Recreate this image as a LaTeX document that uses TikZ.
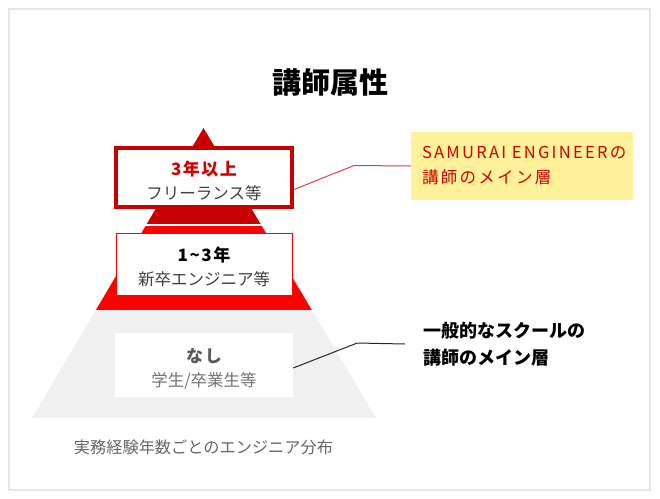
\documentclass[tikz,border=0pt]{standalone}
\usepackage{fontspec}
\setmainfont{Noto Sans CJK JP}
\usetikzlibrary{calc,positioning}
\definecolor{tierdark}{HTML}{C80000}
\definecolor{tierred}{HTML}{FF0000}
\definecolor{tiergrey}{HTML}{F0F0F0}
\definecolor{noteyellow}{HTML}{FFF29A}
\definecolor{notered}{HTML}{D20000}
\definecolor{callred}{HTML}{E83846}
\definecolor{framegrey}{HTML}{E6E6E6}
\newcommand\tierhead[1]{\rule{0pt}{21pt}{\fontsize{17}{24}\selectfont\bfseries\addfontfeature{LetterSpace=9}#1}}
\tikzset{
	tierbox/.style={minimum width=176, minimum height=60, inner sep=0pt, align=center, fill=white, font=\fontsize{16.5}{24}\selectfont},
	notetext/.style={anchor=west, align=left, inner sep=0pt},
}

\begin{document}
\begin{tikzpicture}[x=1pt, y=-1pt]
		%%%%% START %%%%%
		
		\useasboundingbox (0, 0) rectangle (660, 498);
		\fill[white] (0, 0) rectangle (660, 498);
		\draw[framegrey, line width=1.5pt] (9, 9) rectangle (650, 490);
		
		\node (title) at (330, 82) {\fontsize{29}{30}\selectfont\bfseries 講師属性};
		
		% pyramid, cut into three bands
		\begin{scope}
			\clip (203.5, 128) -- (376, 418) -- (32, 418) -- cycle;
			\fill[tierdark] (0, 120) rectangle (660, 223.5);
			\fill[tierred] (0, 226) rectangle (660, 310);
			\fill[tiergrey] (0, 310) rectangle (660, 418);
		\end{scope}
		
		\node[tierbox, draw=tierdark, line width=4pt, minimum height=59] (senior) at (204, 177.5)
			{\textcolor{notered}{\tierhead{3年以上}}\\\textcolor{black!75}{フリーランス等}};
		\node[tierbox, draw=tierred, line width=0.8pt, minimum height=62] (junior) at (204, 264)
			{\tierhead{1\char`~3年}\\\textcolor{black!75}{新卒エンジニア等}};
		\node[tierbox, minimum width=178, minimum height=64] (novice) at (204, 365)
			{\textcolor{black!65}{\tierhead{なし}}\\\textcolor{black!55}{学生/卒業生等}};
		
		\node[fill=noteyellow, minimum width=222, minimum height=68, text width=200, inner xsep=11pt, align=left,
			font=\fontsize{16.5}{25}\selectfont\addfontfeature{LetterSpace=14}, text=notered] (samurai) at (522, 166)
			{SAMURAI ENGINEERの\\講師のメイン層};
		\node[notetext, inner xsep=18pt, font=\fontsize{18}{27}\selectfont\bfseries] (school) at (405, 344)
			{一般的なスクールの\\講師のメイン層};
		
		\draw[callred, line width=1pt] ($(senior.east)+(0, 12)$) -- ++(60, -24) -- (samurai.west);
		\draw[black!85, line width=1pt] ($(novice.east)+(0, 3)$) -- ++(64, -25) -- (school.west);
		
		\node[text=black!60, font=\fontsize{16.2}{18}\selectfont] (caption) at (203.5, 447) {実務経験年数ごとのエンジニア分布};
		
		%%%%% END %%%%%
	\end{tikzpicture}
\end{document}
